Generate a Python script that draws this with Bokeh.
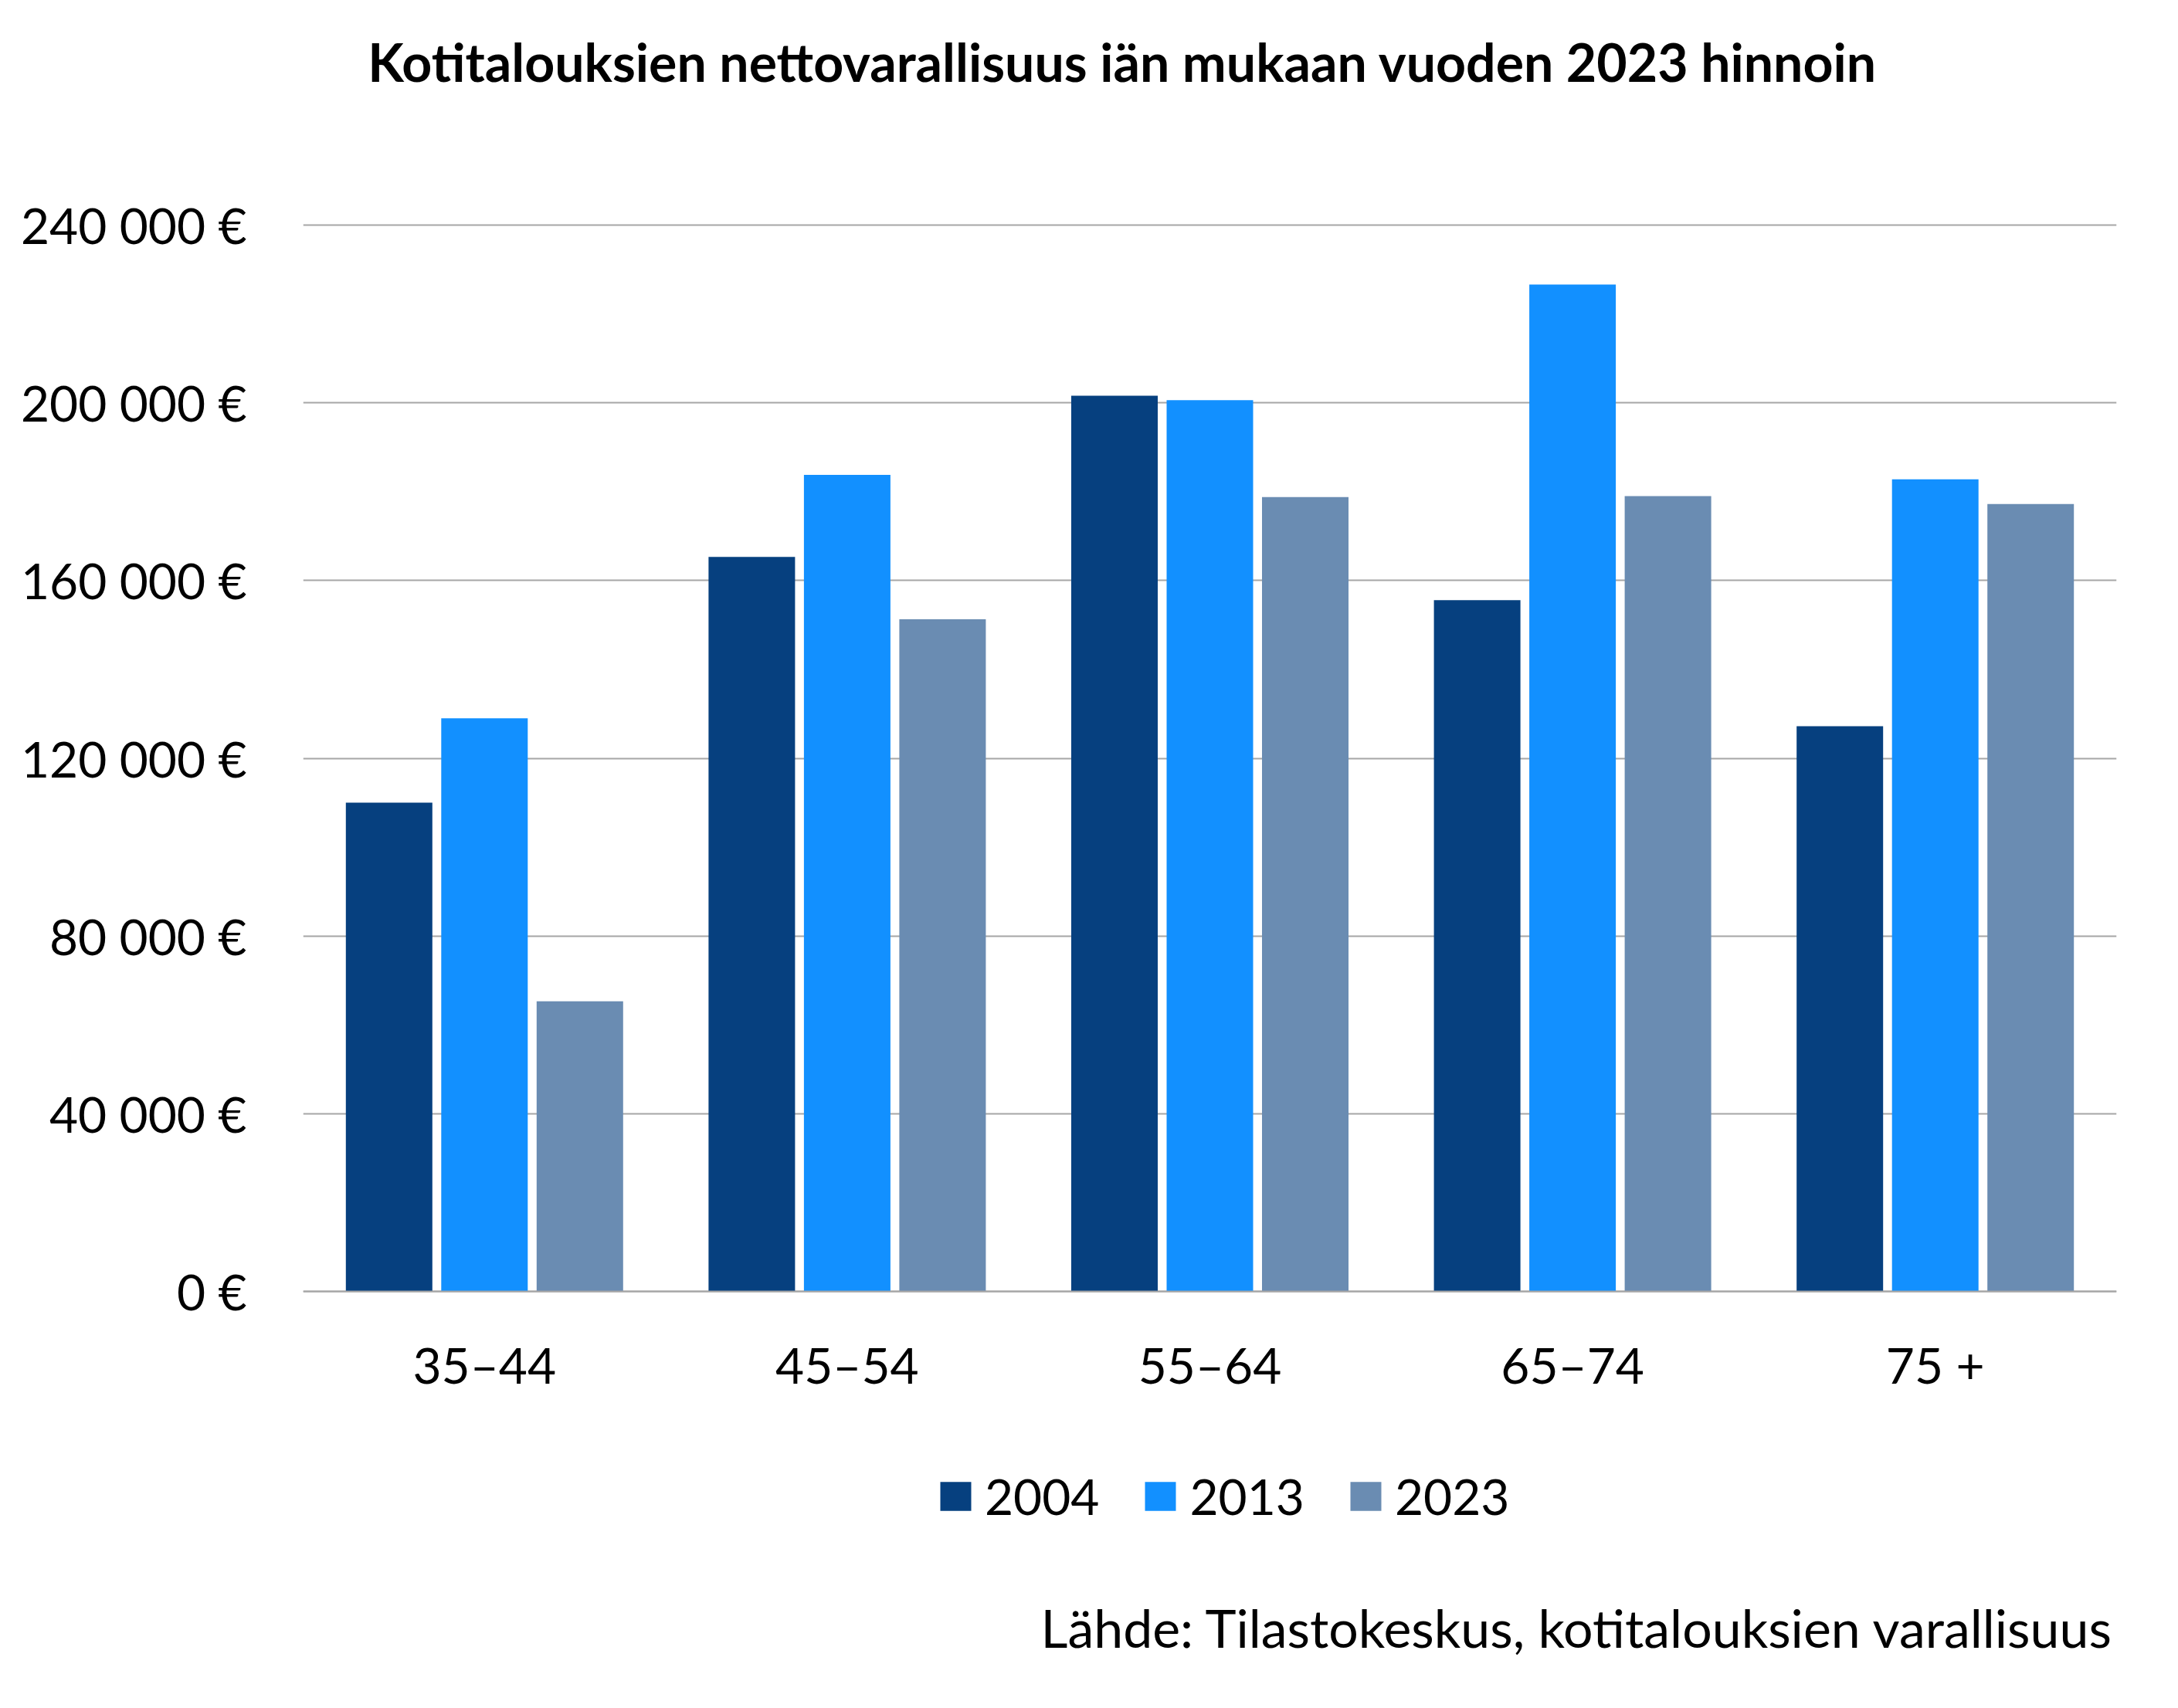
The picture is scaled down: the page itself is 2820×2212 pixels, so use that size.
from bokeh.plotting import figure
from bokeh.models import (ColumnDataSource, Range1d, FixedTicker, Legend, LegendItem,
                          Label, FactorRange)
from bokeh.transform import dodge
from bokeh.embed import file_html
from bokeh.resources import INLINE

# ---- data ----
categories = ["35–44", "45–54", "55–64", "65–74", "75 +"]
years = ["2004", "2013", "2023"]
v2004 = [110000, 165300, 201600, 155600, 127200]
v2013 = [129000, 183800, 200600, 226600, 182800]
v2023 = [65300, 151300, 178800, 179000, 177200]
y_ticks = [0, 40000, 80000, 120000, 160000, 200000, 240000]
y_tick_labels = ["0 €", "40 000 €", "80 000 €", "120 000 €", "160 000 €", "200 000 €", "240 000 €"]
title_text = "Kotitalouksien nettovarallisuus iän mukaan vuoden 2023 hinnoin"
source_text = "Lähde: Tilastokeskus, kotitalouksien varallisuus"

colors = ["#06407f", "#1290ff", "#6a8cb2"]
FONT = "Lato"
GRID = "#a6a6a6"

W, H = 2804, 2196
# frame spans the full height; value 0 sits 524 px above the bottom,
# 240 000 sits 291 px below the top
p = figure(x_range=FactorRange(factors=categories, range_padding=0),
           y_range=Range1d(-91064, 290574),
           width=W, height=H, output_backend="svg", toolbar_location=None,
           min_border_left=392, min_border_right=64, min_border_top=0,
           min_border_bottom=0)
p.outline_line_color = None
p.background_fill_color = "white"
p.border_fill_color = "white"

src = ColumnDataSource(dict(cat=categories, y2004=v2004, y2013=v2013, y2023=v2023))
offsets = [-0.263, 0.0, 0.263]
renderers = []
for yr, col, off in zip(years, colors, offsets):
    r = p.vbar(x=dodge("cat", off, range=p.x_range), top="y" + yr, width=0.2385,
               source=src, fill_color=col, line_color=None)
    renderers.append(r)

# axes
p.yaxis.ticker = FixedTicker(ticks=y_ticks)
p.yaxis.major_label_overrides = dict(zip(y_ticks, y_tick_labels))
p.yaxis.axis_line_color = None
p.yaxis.major_tick_line_color = None
p.yaxis.minor_tick_line_color = None
p.yaxis.major_tick_out = 0
p.yaxis.major_tick_in = 0
p.yaxis.major_label_standoff = 73
p.yaxis.major_label_text_font = FONT
p.yaxis.major_label_text_font_size = "64px"
p.yaxis.major_label_text_color = "black"

p.xaxis.fixed_location = 0
p.xaxis.axis_line_color = GRID
p.xaxis.axis_line_width = 2
p.xaxis.major_tick_line_color = None
p.xaxis.minor_tick_line_color = None
p.xaxis.major_tick_out = 0
p.xaxis.major_tick_in = 0
p.xaxis.major_label_standoff = 56
p.xaxis.major_label_text_font = FONT
p.xaxis.major_label_text_font_size = "64px"
p.xaxis.major_label_text_color = "black"

p.xgrid.grid_line_color = None
p.ygrid.grid_line_color = GRID
p.ygrid.grid_line_width = 2

legend = Legend(items=[LegendItem(label=yr, renderers=[r]) for yr, r in zip(years, renderers)],
                orientation="horizontal", location=(820, 220),
                border_line_color=None, background_fill_alpha=0,
                padding=0, margin=0, spacing=54,
                glyph_width=50, glyph_height=47, label_standoff=13,
                label_text_font=FONT, label_text_font_size="64px",
                label_text_color="black")
p.add_layout(legend)

p.add_layout(Label(x=1061, y=2117, x_units="screen", y_units="screen", text=title_text,
                   text_align="center", text_baseline="middle", text_font=FONT,
                   text_font_style="bold", text_font_size="68px", text_color="black"))
p.add_layout(Label(x=2345, y=89, x_units="screen", y_units="screen", text=source_text,
                   text_align="right", text_baseline="middle", text_font=FONT,
                   text_font_size="68px", text_color="black"))

open("out.html", "w").write(file_html(p, INLINE))
